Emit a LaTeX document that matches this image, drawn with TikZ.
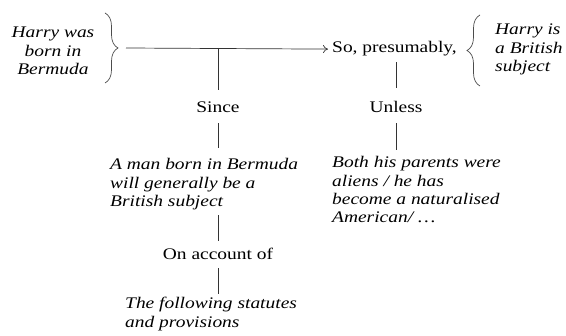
\documentclass[tikz,border=0pt]{standalone}
\usepackage{fontspec}
\usepackage{graphicx}
\setmainfont{Liberation Serif}
\usetikzlibrary{arrows.meta,decorations.pathreplacing}
% text set slightly wide, as in the argument layout
\newcommand\wide[1]{\scalebox{1.2}[1]{#1}}
\newcommand\textlines[2]{\wide{\begin{tabular}[t]{@{}#1@{}}#2\end{tabular}}}
\begin{document}
\begin{tikzpicture}[x=1pt,y=-1pt,
  txt/.style={inner sep=0pt,font=\fontsize{16.2}{18.3}\selectfont},
  claim/.style={txt,font=\fontsize{16.2}{18.3}\selectfont\itshape},
  link/.style={draw=black!80,line width=0.7pt},
  curly/.style={draw=black!70,line width=0.7pt,
    decorate,decoration={brace,amplitude=13pt,aspect=0.5}}]
\useasboundingbox (0,0) rectangle (566,336);

% datum and claim
\node[claim,anchor=base] (datum) at (53,38)
  {\textlines{c}{Harry was\\born in\\Bermuda}};
\node[txt,anchor=base west] (so) at (332,53) {\wide{So, presumably,}};
\node[claim,anchor=base west] (claimtext) at (495,35)
  {\textlines{l}{Harry is\\a British\\subject}};

% braces
\draw[curly] (105,13) -- (105,83);
\draw[curly] (480,86) -- (480,15);
\coordinate (ltip) at (126,48);
\coordinate (j) at (218,48);

% main inference arrow
\draw[link,-{To[length=5pt,width=8pt]},shorten >=4pt] (ltip) -- (so.west);

% warrant and backing
\node[txt,anchor=base] (since) at (218,113) {\wide{Since}};
\node[claim,anchor=base west] (warrant) at (110,170)
  {\textlines{l}{A man born in Bermuda\\will generally be a\\British subject}};
\node[txt,anchor=base] (account) at (218,260) {\wide{On account of}};
\node[claim,anchor=base west] (backing) at (125,309)
  {\textlines{l}{The following statutes\\and provisions}};

% rebuttal
\node[txt,anchor=base] (unless) at (396,113) {\wide{Unless}};
\node[claim,anchor=base west] (rebuttal) at (332,168)
  {\textlines{l}{Both his parents were\\aliens / he has\\become a naturalised\\American/ …}};

% connectors
\draw[link,shorten >=12pt] (j) -- (j |- since.north);
\draw[link,shorten <=10pt,shorten >=9pt] (since.south) -- (since.south |- warrant.north);
\draw[link,shorten <=3pt,shorten >=7pt] (account.north |- warrant.south) -- (account.north);
\draw[link,shorten <=8pt,shorten >=2pt] (account.south) -- (account.south |- backing.north);
\draw[link,shorten <=5.5pt,shorten >=14pt] (unless.north |- so.south) -- (unless.north);
\draw[link,shorten <=10pt,shorten >=5pt] (unless.south) -- (unless.south |- rebuttal.north);
\end{tikzpicture}
\end{document}
